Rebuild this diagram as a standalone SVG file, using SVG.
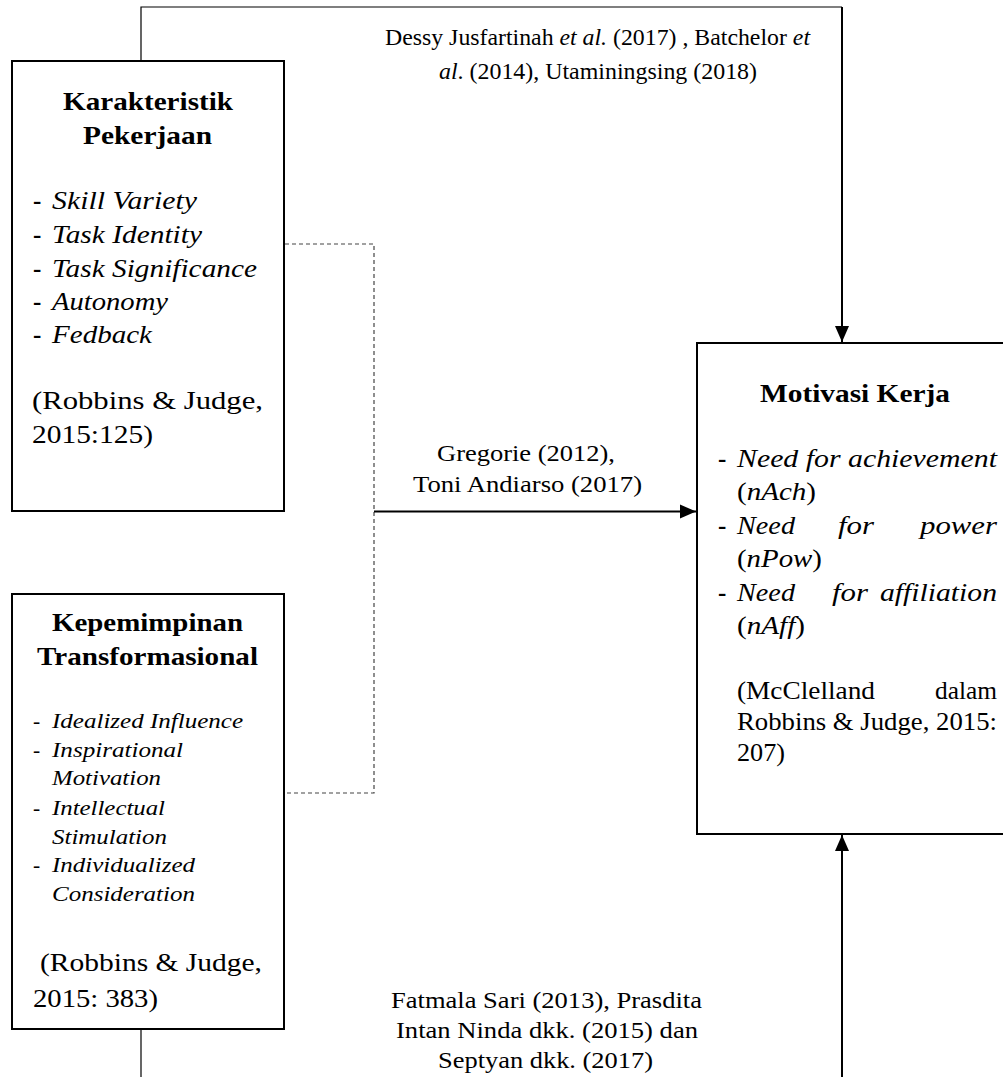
<svg xmlns="http://www.w3.org/2000/svg" width="1003" height="1077" viewBox="0 0 1003 1077">
<style>
text{font-family:"Liberation Serif","Times New Roman",serif;fill:#000;}
.t{font-size:25px;font-weight:bold;}
.b{font-size:25px;}
.s{font-size:21.5px;}
.l{font-size:24px;}
.i{font-style:italic;}
.box{fill:#fff;stroke:#000;stroke-width:2;}
.thin{fill:none;stroke:#000;stroke-width:1.2;}
.thick{fill:none;stroke:#000;stroke-width:2;}
.dash{fill:none;stroke:#444;stroke-width:1.2;stroke-dasharray:4 3;}
</style>
<defs>
<marker id="ah" markerUnits="userSpaceOnUse" markerWidth="16" markerHeight="16" viewBox="0 0 16 16" refX="16" refY="8" orient="auto">
<path d="M0,1 L16,8 L0,15 Z" fill="#000"/>
</marker>
</defs>
<g id="connectors">
<polyline class="thin" points="141,61 141,7 842,7"/>
<line class="thick" x1="842" y1="7" x2="842" y2="342" marker-end="url(#ah)"/>
<polyline class="dash" points="285,244 374,244 374,793 286,793"/>
<line class="thick" x1="374" y1="511.5" x2="696" y2="511.5" marker-end="url(#ah)"/>
<line class="thin" x1="141" y1="1029" x2="141" y2="1077"/>
<line class="thick" x1="842" y1="1077" x2="842" y2="835" marker-end="url(#ah)"/>
<g id="label-top">
<text class="l" x="385" y="45" textLength="425" lengthAdjust="spacingAndGlyphs">Dessy Jusfartinah <tspan class="i">et al.</tspan>  (2017) , Batchelor <tspan class="i">et</tspan></text>
<text class="l" x="439" y="79" textLength="318" lengthAdjust="spacingAndGlyphs"><tspan class="i">al</tspan>. (2014), Utaminingsing (2018)</text>
</g>
<g id="label-mid">
<text class="l" x="437" y="461" textLength="178" lengthAdjust="spacingAndGlyphs">Gregorie (2012),</text>
<text class="l" x="413" y="492" textLength="229" lengthAdjust="spacingAndGlyphs">Toni Andiarso (2017)</text>
</g>
<g id="label-bottom">
<text class="l" x="391" y="1008" textLength="311" lengthAdjust="spacingAndGlyphs">Fatmala Sari (2013), Prasdita</text>
<text class="l" x="396" y="1038" textLength="302" lengthAdjust="spacingAndGlyphs">Intan Ninda dkk. (2015) dan</text>
<text class="l" x="438" y="1068" textLength="215" lengthAdjust="spacingAndGlyphs">Septyan dkk. (2017)</text>
</g>
</g>
<g id="node-karakteristik">
<rect class="box" x="12" y="61" width="272" height="450"/>
<text class="t" x="63" y="110" textLength="170" lengthAdjust="spacingAndGlyphs">Karakteristik</text>
<text class="t" x="83" y="144" textLength="129" lengthAdjust="spacingAndGlyphs">Pekerjaan</text>
<text class="t" x="33" y="209">-</text><text class="b i" x="52" y="209" textLength="145" lengthAdjust="spacingAndGlyphs">Skill Variety</text>
<text class="t" x="33" y="243">-</text><text class="b i" x="52" y="243" textLength="150" lengthAdjust="spacingAndGlyphs">Task Identity</text>
<text class="t" x="33" y="277">-</text><text class="b i" x="52" y="277" textLength="205" lengthAdjust="spacingAndGlyphs">Task Significance</text>
<text class="t" x="33" y="310">-</text><text class="b i" x="52" y="310" textLength="116" lengthAdjust="spacingAndGlyphs">Autonomy</text>
<text class="t" x="33" y="343">-</text><text class="b i" x="52" y="343" textLength="100" lengthAdjust="spacingAndGlyphs">Fedback</text>
<text class="b" x="32" y="409" textLength="231" lengthAdjust="spacingAndGlyphs">(Robbins &amp; Judge,</text>
<text class="b" x="32" y="443" textLength="121" lengthAdjust="spacingAndGlyphs">2015:125)</text>
</g>
<g id="node-kepemimpinan">
<rect class="box" x="12" y="594" width="272" height="435"/>
<text class="t" x="52" y="631" textLength="191" lengthAdjust="spacingAndGlyphs">Kepemimpinan</text>
<text class="t" x="37" y="665" textLength="221" lengthAdjust="spacingAndGlyphs">Transformasional</text>
<text class="s" x="33" y="728">-</text><text class="s i" x="52" y="728" textLength="191" lengthAdjust="spacingAndGlyphs">Idealized Influence</text>
<text class="s" x="33" y="757">-</text><text class="s i" x="52" y="757" textLength="131" lengthAdjust="spacingAndGlyphs">Inspirational</text>
<text class="s i" x="52" y="785" textLength="109" lengthAdjust="spacingAndGlyphs">Motivation</text>
<text class="s" x="33" y="815">-</text><text class="s i" x="52" y="815" textLength="113" lengthAdjust="spacingAndGlyphs">Intellectual</text>
<text class="s i" x="52" y="844" textLength="115" lengthAdjust="spacingAndGlyphs">Stimulation</text>
<text class="s" x="33" y="872">-</text><text class="s i" x="52" y="872" textLength="143" lengthAdjust="spacingAndGlyphs">Individualized</text>
<text class="s i" x="52" y="901" textLength="143" lengthAdjust="spacingAndGlyphs">Consideration</text>
<text class="b" x="40" y="971" textLength="222" lengthAdjust="spacingAndGlyphs">(Robbins &amp; Judge,</text>
<text class="b" x="33" y="1007" textLength="125" lengthAdjust="spacingAndGlyphs">2015: 383)</text>
</g>
<g id="node-motivasi">
<rect class="box" x="697" y="343" width="316" height="491"/>
<text class="t" x="760" y="402" textLength="190" lengthAdjust="spacingAndGlyphs">Motivasi Kerja</text>
<text class="t" x="718" y="467">-</text><text class="b i" x="737" y="467" textLength="260" lengthAdjust="spacingAndGlyphs">Need for achievement</text>
<text class="b" x="737" y="500" textLength="79" lengthAdjust="spacingAndGlyphs">(<tspan class="i">nAch</tspan>)</text>
<text class="t" x="718" y="534">-</text><text class="b i" x="737" y="534" textLength="58" lengthAdjust="spacingAndGlyphs">Need</text><text class="b i" x="838" y="534" textLength="36" lengthAdjust="spacingAndGlyphs">for</text><text class="b i" x="920" y="534" textLength="77" lengthAdjust="spacingAndGlyphs">power</text>
<text class="b" x="737" y="567" textLength="85" lengthAdjust="spacingAndGlyphs">(<tspan class="i">nPow</tspan>)</text>
<text class="t" x="718" y="601">-</text><text class="b i" x="737" y="601" textLength="58" lengthAdjust="spacingAndGlyphs">Need</text><text class="b i" x="832" y="601" textLength="36" lengthAdjust="spacingAndGlyphs">for</text><text class="b i" x="880" y="601" textLength="117" lengthAdjust="spacingAndGlyphs">affiliation</text>
<text class="b" x="737" y="634" textLength="68" lengthAdjust="spacingAndGlyphs">(<tspan class="i">nAff</tspan>)</text>
<text class="b" x="737" y="699" textLength="138" lengthAdjust="spacingAndGlyphs">(McClelland</text><text class="b" x="935" y="699" textLength="62" lengthAdjust="spacingAndGlyphs">dalam</text>
<text class="b" x="737" y="730" textLength="260" lengthAdjust="spacingAndGlyphs">Robbins &amp; Judge, 2015:</text>
<text class="b" x="737" y="761" textLength="48" lengthAdjust="spacingAndGlyphs">207)</text>
</g>
</svg>
